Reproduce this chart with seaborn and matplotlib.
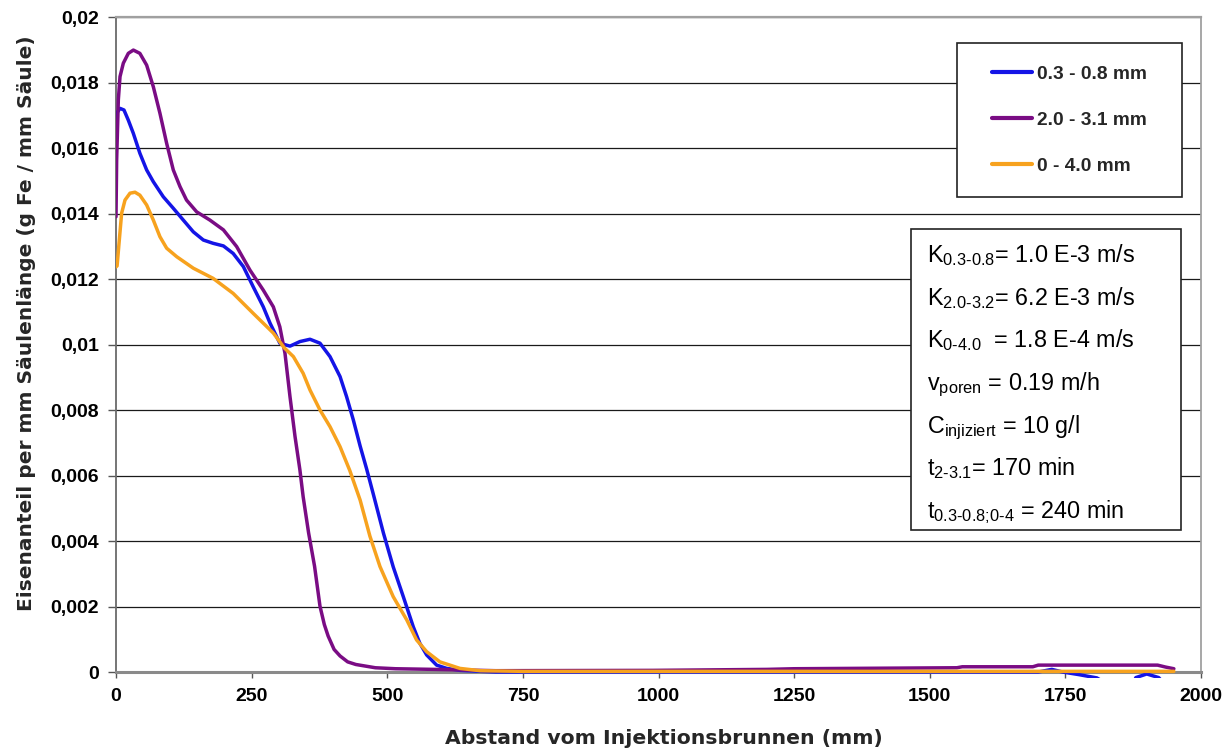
import matplotlib
matplotlib.use("Agg")
import matplotlib.pyplot as plt
from matplotlib.patches import Rectangle
from matplotlib.lines import Line2D
import numpy as np
import pandas as pd
import seaborn as sns

# ---------------- data ----------------
series_labels = ["0.3 - 0.8 mm", "2.0 - 3.1 mm", "0 - 4.0 mm"]
series_colors = ["#1414E6", "#7A0C84", "#F7A21E"]

x_blue = [0, 1.2, 7.4, 14.7, 22.7, 31.9, 44, 56.5, 68.8, 87.2, 105.6, 124, 142.5,
          161, 179, 198, 216, 234.7, 253, 271.5, 284, 302, 320.7, 339, 357.6, 376,
          394.5, 413, 425, 437.4, 450, 462, 474, 493, 511, 529.6, 548, 560, 572.7,
          591, 609.6, 634, 660, 700, 1000, 1500, 1700, 1725, 1745, 1775, 1808, 1840,
          1870, 1880, 1900, 1922, 1940, 1950]
y_blue = [0.01664, 0.01706, 0.01721, 0.01716, 0.01685, 0.01645, 0.01584, 0.01533,
          0.01497, 0.01451, 0.01416, 0.0138, 0.01344, 0.01319, 0.01309, 0.01301,
          0.01278, 0.01238, 0.01176, 0.01115, 0.01065, 0.01004, 0.00995, 0.01009,
          0.01016, 0.01004, 0.00963, 0.00902, 0.00841, 0.0077, 0.0069, 0.0062,
          0.00545, 0.00424, 0.00321, 0.0023, 0.00138, 0.00088, 0.00052, 0.00021,
          0.00011, 0.00005, 0.00003, 0.0, 0.0, 0.0, 0.0, 0.00008, 0.0, -0.00008,
          -0.00018, -0.0005, -0.0005, -0.00017, -0.00006, -0.00017, -0.0005, -0.0005]

x_purple = [0, 1.2, 4.3, 7.4, 13.5, 22.7, 32, 44, 56.5, 68.8, 81, 93.4, 105.6, 118,
            130, 148.7, 173, 198, 222.4, 247, 271.5, 290, 302, 311.5, 320.7, 330,
            339, 345, 355, 366, 376, 384, 391, 402, 413, 427, 442, 478, 515, 587,
            700, 990, 1200, 1250, 1450, 1550, 1560, 1690, 1700, 1920, 1935, 1950]
y_purple = [0.0139, 0.01563, 0.01747, 0.01818, 0.01859, 0.01889, 0.01899, 0.01889,
            0.01853, 0.01787, 0.01706, 0.01614, 0.01533, 0.01482, 0.01441, 0.01405,
            0.0138, 0.0135, 0.01299, 0.01227, 0.01166, 0.01115, 0.01054, 0.00973,
            0.00841, 0.00719, 0.00617, 0.00535, 0.00425, 0.00323, 0.00201, 0.00145,
            0.0011, 0.00069, 0.00049, 0.00031, 0.00023, 0.00013, 0.0001, 0.00008,
            0.00004, 0.00005, 0.00008, 0.0001, 0.00012, 0.00013, 0.00016, 0.00016,
            0.00021, 0.00021, 0.00015, 0.0001]

x_orange = [0, 2, 6.1, 10.4, 16.6, 25.8, 35, 44, 56.5, 68.8, 81, 93.4, 112, 142.5,
            179, 216, 253, 290, 310, 327, 345, 357.6, 376, 394.5, 413, 431, 450,
            468, 486.6, 511, 536, 554, 572.7, 597, 634, 671, 711, 750, 1950]
y_orange = [0.01237, 0.0124, 0.01319, 0.01401, 0.01441, 0.01462, 0.01465, 0.01456,
            0.01426, 0.0138, 0.01329, 0.01294, 0.01268, 0.01233, 0.01202, 0.01156,
            0.01095, 0.01035, 0.0099, 0.00963, 0.00912, 0.00861, 0.008, 0.00749,
            0.00688, 0.00615, 0.00525, 0.00415, 0.00322, 0.0023, 0.00159, 0.00098,
            0.00062, 0.00031, 0.00011, 0.00004, 0.00003, 0.00002, 0.00002]

x_ticks = [0, 250, 500, 750, 1000, 1250, 1500, 1750, 2000]
x_tick_labels = ["0", "250", "500", "750", "1000", "1250", "1500", "1750", "2000"]
y_ticks = [0, 0.002, 0.004, 0.006, 0.008, 0.01, 0.012, 0.014, 0.016, 0.018, 0.02]
y_tick_labels = ["0", "0,002", "0,004", "0,006", "0,008", "0,01", "0,012",
                 "0,014", "0,016", "0,018", "0,02"]

x_label = "Abstand vom Injektionsbrunnen (mm)"
y_label = "Eisenanteil per mm Säulenlänge (g Fe / mm Säule)"

info_lines = [
    r"K$_{\mathregular{0.3‐0.8}}$= 1.0 E-3 m/s",
    r"K$_{\mathregular{2.0‐3.2}}$= 6.2 E-3 m/s",
    r"K$_{\mathregular{0‐4.0}}$  = 1.8 E-4 m/s",
    r"v$_{\mathregular{poren}}$ = 0.19 m/h",
    r"C$_{\mathregular{injiziert}}$ = 10 g/l",
    r"t$_{\mathregular{2‐3.1}}$= 170 min",
    r"t$_{\mathregular{0.3‐0.8;\!0‐4}}$ = 240 min",
]

# ---------------- build the frame ----------------
df = pd.concat([
    pd.DataFrame({"Abstand": x_blue, "Eisen": y_blue, "Serie": series_labels[0]}),
    pd.DataFrame({"Abstand": x_purple, "Eisen": y_purple, "Serie": series_labels[1]}),
    pd.DataFrame({"Abstand": x_orange, "Eisen": y_orange, "Serie": series_labels[2]}),
], ignore_index=True)

sns.set_theme(style="white")
plt.rcParams["font.family"] = ["Liberation Sans", "DejaVu Sans"]
plt.rcParams["mathtext.fontset"] = "custom"
plt.rcParams["mathtext.rm"] = "Liberation Sans"

W, H = 1231, 751
fig = plt.figure(figsize=(W / 100, H / 100), dpi=100)
fig.patch.set_facecolor("white")

ax_left, ax_right, ax_top, ax_bot = 116, 1201, 17, 678
ax = fig.add_axes([ax_left / W, 1 - ax_bot / H, (ax_right - ax_left) / W, (ax_bot - ax_top) / H])

palette = dict(zip(series_labels, series_colors))
sns.lineplot(data=df, x="Abstand", y="Eisen", hue="Serie", hue_order=series_labels,
             palette=palette, estimator=None, sort=False, linewidth=2.5,
             legend=False, ax=ax)
for ln in ax.lines:
    ln.set_solid_joinstyle("round")
    ln.set_solid_capstyle("round")

ax.set_xlim(0, 2000)
ax.set_ylim(-0.000183, 0.02)
ax.set_xlabel("")
ax.set_ylabel("")

for side in ["left", "right", "top", "bottom"]:
    ax.spines[side].set_visible(True)
    ax.spines[side].set_zorder(1)
ax.spines["bottom"].set_position(("data", 0))
ax.spines["bottom"].set_color("#8a8a8a")
ax.spines["bottom"].set_linewidth(2.2)
ax.spines["left"].set_bounds(0, 0.02)
ax.spines["left"].set_color("#6a6a6a")
ax.spines["left"].set_linewidth(1.3)
ax.spines["right"].set_bounds(0, 0.02)
ax.spines["right"].set_color("#a0a0a0")
ax.spines["right"].set_linewidth(1.3)
ax.spines["top"].set_color("#a0a0a0")
ax.spines["top"].set_linewidth(1.6)

ax.set_xticks(x_ticks)
ax.set_xticklabels(x_tick_labels, fontsize=14, fontweight="bold", color="black")
ax.set_yticks(y_ticks)
ax.set_yticklabels(y_tick_labels, fontsize=14, fontweight="bold", color="black")

ax.tick_params(axis="x", bottom=True, direction="out", length=4.5, width=1,
               color="#555555", pad=7, labelsize=14)
ax.tick_params(axis="y", left=True, direction="out", length=5.5, width=1,
               color="#555555", pad=7, labelsize=14)

ax.yaxis.grid(True, color="#1a1a1a", linewidth=0.9)
ax.xaxis.grid(False)
ax.set_axisbelow(True)

# axis titles
fig.text(664 / W, 1 - 738 / H, x_label, ha="center", va="center",
         fontsize=14.7, fontweight="bold", family="DejaVu Sans")
fig.text(27 / W, 1 - 323 / H, y_label, ha="center", va="center", rotation=90,
         fontsize=14.5, fontweight="bold", family="DejaVu Sans")

# legend box
lg_l, lg_r, lg_t, lg_b = 957, 1182, 43, 197
fig.add_artist(Rectangle((lg_l / W, 1 - lg_b / H), (lg_r - lg_l) / W, (lg_b - lg_t) / H,
                         transform=fig.transFigure, facecolor="white",
                         edgecolor="#222222", linewidth=1.2, zorder=2))
handles = [Line2D([], [], color=c, linewidth=3) for c in series_colors]
fig.legend(handles, series_labels, loc="center",
           bbox_to_anchor=((lg_l + lg_r) / 2 / W, 1 - (lg_t + lg_b) / 2 / H),
           bbox_transform=fig.transFigure, frameon=False,
           prop={"weight": "bold", "size": 13.8, "family": "Liberation Sans"},
           handlelength=2.05, handletextpad=0.25, labelspacing=1.5,
           borderpad=0, borderaxespad=0)

# info box
tb_l, tb_r, tb_t, tb_b = 911, 1181, 229, 530
fig.add_artist(Rectangle((tb_l / W, 1 - tb_b / H), (tb_r - tb_l) / W, (tb_b - tb_t) / H,
                         transform=fig.transFigure, facecolor="white",
                         edgecolor="#222222", linewidth=1.2, zorder=2))
for i, s in enumerate(info_lines):
    fig.text(927 / W, 1 - (262 + 42.7 * i) / H, s, ha="left", va="baseline",
             fontsize=16.8, color="black", zorder=3)

fig.savefig("out.png", dpi=100, facecolor="white")
